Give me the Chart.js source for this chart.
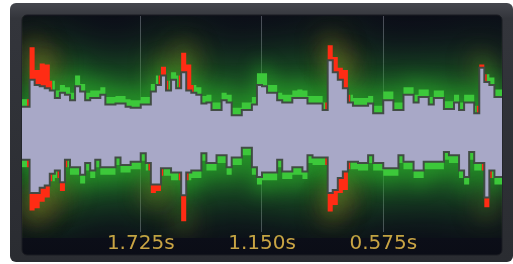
<!DOCTYPE html>
<html>
<head>
<meta charset="utf-8">
<script src="https://cdn.jsdelivr.net/npm/chart.js@4.4.0/dist/chart.umd.min.js"></script>
<style>
  html, body { margin: 0; padding: 0; background: #fff; }
  #wrap { width: 513px; height: 264px; }
  #meter { filter: blur(0.5px); }
</style>
</head>
<body>
<div id="wrap"><canvas id="meter" width="513" height="264"></canvas></div>
<script>
// length of the shown window, seconds (left edge = oldest)
const duration = 2.3;
const tickTimes = [1.725, 1.15, 0.575];

// upper channel: rms level (lavender edge) and peak level (green / red band)
const rmsTop = [0.16,0.16,0.41,0.36,0.35,0.33,0.31,0.24,0.29,0.27,
  0.22,0.35,0.30,0.22,0.24,0.24,0.27,0.18,0.18,0.19,
  0.19,0.16,0.15,0.15,0.18,0.18,0.30,0.36,0.45,0.31,
  0.41,0.33,0.48,0.31,0.29,0.27,0.19,0.20,0.13,0.13,
  0.22,0.20,0.08,0.08,0.13,0.13,0.18,0.36,0.35,0.29,
  0.29,0.22,0.20,0.20,0.24,0.24,0.24,0.19,0.19,0.19,
  0.13,0.59,0.48,0.41,0.33,0.20,0.17,0.17,0.17,0.19,
  0.10,0.10,0.22,0.22,0.13,0.13,0.27,0.27,0.20,0.25,
  0.25,0.18,0.24,0.24,0.14,0.14,0.20,0.13,0.20,0.20,
  0.10,0.52,0.39,0.36,0.25,0.25];
const peakTop = [0.23,0.23,0.71,0.50,0.56,0.55,0.40,0.31,0.36,0.34,
  0.29,0.45,0.37,0.29,0.31,0.31,0.34,0.25,0.25,0.26,
  0.26,0.23,0.22,0.22,0.25,0.25,0.37,0.45,0.53,0.40,
  0.48,0.45,0.66,0.55,0.36,0.34,0.26,0.27,0.20,0.20,
  0.29,0.27,0.15,0.15,0.20,0.20,0.25,0.47,0.47,0.36,
  0.36,0.29,0.27,0.27,0.31,0.32,0.31,0.26,0.26,0.26,
  0.20,0.73,0.62,0.52,0.50,0.27,0.24,0.24,0.24,0.26,
  0.17,0.17,0.30,0.30,0.20,0.20,0.34,0.34,0.27,0.32,
  0.32,0.25,0.31,0.31,0.21,0.21,0.27,0.20,0.27,0.27,
  0.17,0.55,0.46,0.43,0.32,0.32];

// lower channel
const rmsBottom = [-0.33,-0.33,-0.64,-0.64,-0.59,-0.57,-0.46,-0.43,-0.54,-0.33,
  -0.40,-0.40,-0.47,-0.36,-0.43,-0.33,-0.40,-0.40,-0.40,-0.31,
  -0.38,-0.38,-0.35,-0.35,-0.27,-0.36,-0.56,-0.56,-0.41,-0.41,
  -0.45,-0.45,-0.66,-0.45,-0.43,-0.43,-0.27,-0.36,-0.36,-0.29,
  -0.29,-0.40,-0.31,-0.31,-0.22,-0.22,-0.40,-0.49,-0.45,-0.45,
  -0.45,-0.33,-0.44,-0.44,-0.40,-0.40,-0.44,-0.29,-0.31,-0.31,
  -0.31,-0.64,-0.61,-0.50,-0.44,-0.35,-0.35,-0.36,-0.36,-0.29,
  -0.36,-0.36,-0.41,-0.41,-0.41,-0.29,-0.35,-0.35,-0.43,-0.43,
  -0.35,-0.35,-0.35,-0.35,-0.26,-0.29,-0.29,-0.43,-0.49,-0.26,
  -0.36,-0.36,-0.68,-0.43,-0.49,-0.49];
const peakBottom = [-0.40,-0.40,-0.80,-0.78,-0.72,-0.68,-0.53,-0.50,-0.62,-0.40,
  -0.47,-0.47,-0.55,-0.43,-0.50,-0.40,-0.47,-0.47,-0.47,-0.38,
  -0.45,-0.45,-0.42,-0.42,-0.34,-0.43,-0.64,-0.62,-0.48,-0.48,
  -0.52,-0.52,-0.90,-0.52,-0.50,-0.50,-0.34,-0.43,-0.43,-0.36,
  -0.36,-0.47,-0.38,-0.38,-0.29,-0.29,-0.47,-0.56,-0.52,-0.52,
  -0.52,-0.40,-0.51,-0.51,-0.47,-0.47,-0.51,-0.36,-0.38,-0.38,
  -0.38,-0.81,-0.75,-0.64,-0.61,-0.42,-0.42,-0.43,-0.43,-0.36,
  -0.43,-0.43,-0.48,-0.48,-0.48,-0.36,-0.42,-0.42,-0.50,-0.50,
  -0.42,-0.42,-0.42,-0.42,-0.33,-0.36,-0.36,-0.50,-0.56,-0.33,
  -0.43,-0.43,-0.77,-0.50,-0.56,-0.56];

// peaks louder than this turn red
const clipTop = 0.48;
const clipBottom = 0.6;

const GREEN = '#3cc83a';
const RED = '#ff2c14';
const LAVENDER = '#a8a8c7';
const OUTLINE = 'rgba(62,72,64,0.95)';

const dt = duration / rmsTop.length;
function toPoints(arr) {
  return arr.map((v, i) => ({ x: duration - (i + 0.5) * dt, y: v }));
}
function clipColor(limit) {
  return ctx => (Math.abs(ctx.p0.parsed.y) > limit || Math.abs(ctx.p1.parsed.y) > limit) ? RED : GREEN;
}

// frame + dark panel behind the plot
const panel = {
  id: 'panel',
  beforeDraw(chart) {
    const c = chart.ctx;
    c.save();
    c.fillStyle = '#ffffff';
    c.fillRect(0, 0, chart.width, chart.height);
    let g = c.createLinearGradient(0, 3, 0, 262);
    g.addColorStop(0, '#45474e');
    g.addColorStop(0.06, '#33353b');
    g.addColorStop(1, '#2a2c31');
    c.fillStyle = g;
    c.beginPath(); c.roundRect(10, 3, 503, 259, 6); c.fill();
    g = c.createLinearGradient(0, 15, 0, 255);
    g.addColorStop(0, '#0c0e18');
    g.addColorStop(0.5, '#111425');
    g.addColorStop(1, '#0b0d16');
    c.fillStyle = g;
    c.beginPath(); c.roundRect(22, 15, 480, 240, 5); c.fill();
    c.strokeStyle = '#1b1c22';
    c.lineWidth = 1;
    c.stroke();
    c.restore();
  }
};

// soft halo around the peak bands
const glow = {
  id: 'glow',
  beforeDatasetsDraw(chart) {
    const c = chart.ctx, a = chart.chartArea;
    const zero = chart.scales.y.getPixelForValue(0);
    c.save();
    c.beginPath(); c.rect(a.left, a.top, a.width, a.bottom - a.top + 6); c.clip();
    [[0, clipTop], [1, clipBottom]].forEach(([di, limit]) => {
      const pts = chart.getDatasetMeta(di).data;
      const w = (pts[1].x - pts[0].x) / 2;
      const path = (push) => {
        c.beginPath();
        c.moveTo(pts[0].x - w, zero);
        pts.forEach(p => {
          const y = p.y + (p.y < zero ? -push : push);
          c.lineTo(p.x - w, y); c.lineTo(p.x + w, y);
        });
        c.lineTo(pts[pts.length - 1].x + w, zero);
        c.closePath();
      };
      c.filter = 'blur(26px)';
      c.fillStyle = 'rgba(40,165,40,0.7)';
      path(22); c.fill();
      c.filter = 'blur(9px)';
      c.fillStyle = 'rgba(42,170,42,0.6)';
      path(9); c.fill();
      c.filter = 'blur(14px)';
      c.fillStyle = 'rgba(220,60,25,0.32)';
      pts.forEach((p, i) => {
        const v = chart.data.datasets[di].data[i].y;
        if (Math.abs(v) > limit) { c.beginPath(); c.arc(p.x, p.y, 10, 0, Math.PI * 2); c.fill(); }
      });
    });
    c.restore();
  }
};

new Chart(document.getElementById('meter'), {
  type: 'line',
  data: {
    datasets: [
      { label: 'peak L', data: toPoints(peakTop), stepped: 'middle', fill: 2, borderWidth: 0, pointRadius: 0,
        backgroundColor: GREEN, segment: { backgroundColor: clipColor(clipTop) }, order: 2 },
      { label: 'peak R', data: toPoints(peakBottom), stepped: 'middle', fill: 3, borderWidth: 0, pointRadius: 0,
        backgroundColor: GREEN, segment: { backgroundColor: clipColor(clipBottom) }, order: 2 },
      { label: 'rms L', data: toPoints(rmsTop), stepped: 'middle', fill: 3, borderWidth: 2, pointRadius: 0,
        borderColor: OUTLINE, backgroundColor: LAVENDER, order: 1 },
      { label: 'rms R', data: toPoints(rmsBottom), stepped: 'middle', fill: false, borderWidth: 2, pointRadius: 0,
        borderColor: OUTLINE, order: 0 }
    ]
  },
  options: {
    responsive: false,
    animation: false,
    events: [],
    layout: { padding: { left: 22, right: 11, top: 16, bottom: 8 } },
    plugins: { legend: { display: false }, tooltip: { enabled: false } },
    scales: {
      x: {
        type: 'linear',
        reverse: true,
        min: dt / 2,
        max: duration - dt / 2,
        afterBuildTicks: scale => { scale.ticks = tickTimes.map(t => ({ value: t })); },
        grid: { color: 'rgba(150,152,168,0.45)', drawTicks: false },
        border: { display: false },
        ticks: {
          padding: 0,
          color: '#c9a444',
          font: { family: 'DejaVu Sans', size: 20 },
          callback: v => v.toFixed(3) + 's'
        }
      },
      y: { display: false, min: -1, max: 1 }
    }
  },
  plugins: [panel, glow]
});
</script>
</body>
</html>
